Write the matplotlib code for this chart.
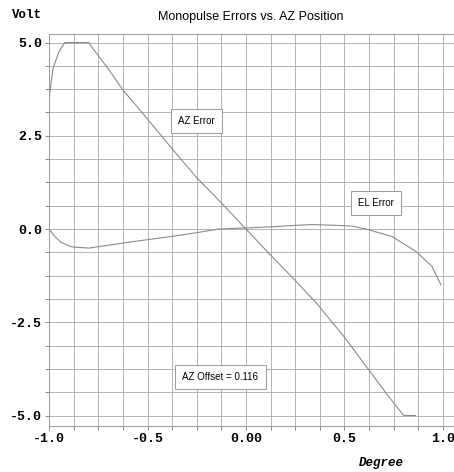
import numpy as np
import matplotlib.pyplot as plt
from matplotlib.ticker import MultipleLocator

# AZ error curve (Volt vs Degree)
az_x = [-1.0, -0.98, -0.95, -0.92, -0.85, -0.80, -0.75, -0.70, -0.625, -0.5,
        -0.375, -0.254, -0.125, 0.0, 0.125, 0.254, 0.36, 0.5, 0.624, 0.726,
        0.80, 0.86]
az_y = [3.5, 4.3, 4.75, 5.0, 5.0, 5.0, 4.65, 4.3, 3.73, 2.95,
        2.15, 1.4, 0.7, 0.0, -0.7, -1.4, -2.0, -2.9, -3.78, -4.5,
        -5.0, -5.0]

# EL error curve
el_x = [-1.0, -0.97, -0.94, -0.9, -0.883, -0.797, -0.63, -0.508, -0.38, -0.254,
        -0.137, 0.0, 0.13, 0.254, 0.335, 0.45, 0.538, 0.609, 0.741, 0.863,
        0.944, 0.99]
el_y = [0.0, -0.2, -0.35, -0.45, -0.48, -0.51, -0.38, -0.29, -0.2, -0.1,
        0.0, 0.03, 0.06, 0.1, 0.12, 0.1, 0.08, 0.0, -0.2, -0.6,
        -1.0, -1.5]

x_ticks = [-1.0, -0.5, 0.0, 0.5, 1.0]
x_labels = ['-1.0', '-0.5', '0.00', '0.5', '1.0']
y_ticks = [5.0, 2.5, 0.0, -2.5, -5.0]
y_labels = ['5.0', '2.5', '0.0', '-2.5', '-5.0']

mono = ['Liberation Mono', 'DejaVu Sans Mono']
narrow = ['Liberation Sans Narrow', 'Liberation Sans', 'DejaVu Sans']

fig = plt.figure(figsize=(4.54, 4.72), dpi=100)
ax = fig.add_axes([0.108, 0.0975, 0.892, 0.8305])

ax.plot(az_x, az_y, color='#8a8a8a', lw=0.8)
ax.plot(el_x, el_y, color='#8a8a8a', lw=0.8)

ax.set_xlim(-1.0, 1.056)
ax.set_ylim(-5.28, 5.23)

ax.xaxis.set_minor_locator(MultipleLocator(0.125))
ax.yaxis.set_minor_locator(MultipleLocator(0.625))
ax.set_xticks(x_ticks)
ax.set_xticklabels(x_labels, family=mono, fontweight='bold', fontsize=9.5)
ax.set_yticks(y_ticks)
ax.set_yticklabels(y_labels, family=mono, fontweight='bold', fontsize=9.5)
ax.grid(which='both', color='#a6a6a6', lw=0.6)
ax.tick_params(which='both', direction='out', length=3, color='#777777', width=0.6, pad=2)

ax.spines['right'].set_visible(False)
for s in ['top', 'left', 'bottom']:
    ax.spines[s].set_color('#999999')
    ax.spines[s].set_linewidth(0.7)

box = dict(boxstyle='square,pad=0.75', fc='white', ec='#999999', lw=0.7)
ax.text(-0.25, 2.9, 'AZ Error', family=narrow, fontsize=7, ha='center', va='center', bbox=box)
ax.text(0.66, 0.70, 'EL Error', family=narrow, fontsize=7, ha='center', va='center', bbox=box)
ax.text(-0.13, -3.97, 'AZ Offset = 0.116', family=narrow, fontsize=7, ha='center', va='center',
        bbox=box)

fig.text(0.553, 0.965, 'Monopulse Errors vs. AZ Position', family=narrow, fontsize=9,
         ha='center', va='center')
fig.text(0.027, 0.968, 'Volt', family=mono, fontweight='bold', fontsize=9, ha='left', va='center')
fig.text(0.84, 0.019, 'Degree', family=mono, fontweight='bold', fontstyle='italic', fontsize=9,
         ha='center', va='center')

fig.savefig('out.png', dpi=100)
